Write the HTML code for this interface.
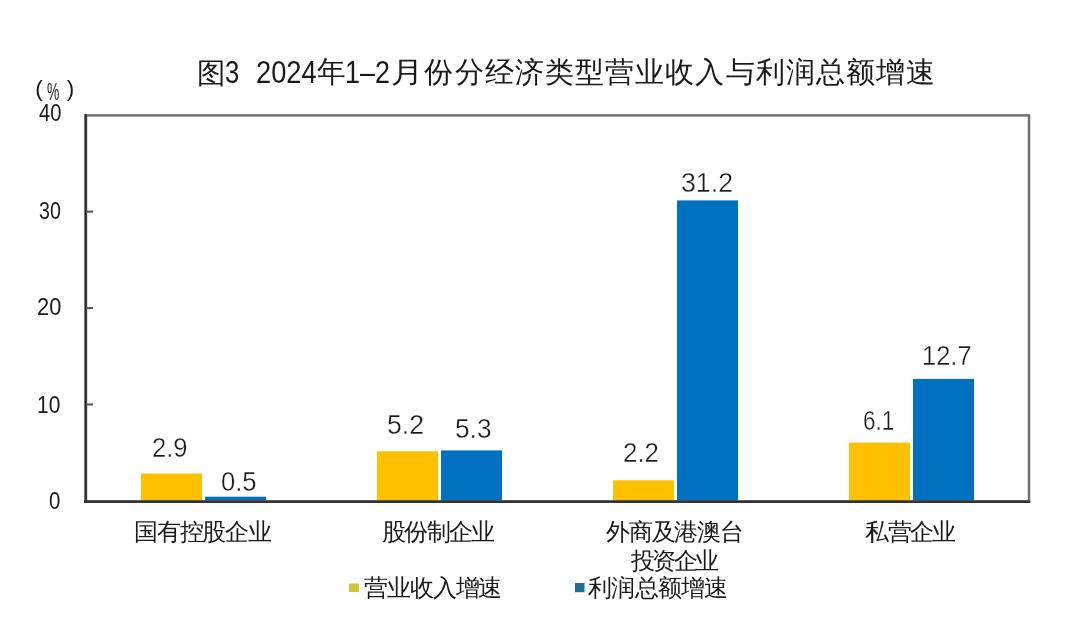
<!DOCTYPE html>
<html><head><meta charset="utf-8">
<style>
html,body{margin:0;padding:0;background:#fff;}
body{width:1080px;height:620px;position:relative;overflow:hidden;font-family:"Liberation Sans",sans-serif;color:#1a1a1a;}
#wrap{position:absolute;left:0;top:0;width:1080px;height:620px;filter:blur(0.6px);}
.t{position:absolute;white-space:nowrap;line-height:1;transform-origin:0 0;}
.thin{-webkit-text-stroke:0.35px #fff;}
svg{position:absolute;left:0;top:0;}
</style></head><body><div id="wrap">
<svg width="1080" height="620" viewBox="0 0 1080 620">
  <rect x="141.0" y="473.5" width="61" height="28.0" fill="#FFC000"/>
  <rect x="205.0" y="496.7" width="61" height="4.8" fill="#0070C0"/>
  <rect x="377.0" y="451.3" width="61" height="50.2" fill="#FFC000"/>
  <rect x="441.0" y="450.4" width="61" height="51.1" fill="#0070C0"/>
  <rect x="613.0" y="480.3" width="61" height="21.2" fill="#FFC000"/>
  <rect x="677.0" y="200.4" width="61" height="301.1" fill="#0070C0"/>
  <rect x="849.0" y="442.6" width="61" height="58.9" fill="#FFC000"/>
  <rect x="913.0" y="378.9" width="61" height="122.6" fill="#0070C0"/>
  <rect x="86" y="115.4" width="943" height="386" fill="none" stroke="#707070" stroke-width="2.5"/>
  <line x1="85.6" y1="114" x2="85.6" y2="503" stroke="#2e2e2e" stroke-width="2.4"/>
  <line x1="84" y1="501.7" x2="1030.2" y2="501.7" stroke="#333" stroke-width="2.6"/>
  <line x1="86" y1="211.6" x2="93" y2="211.6" stroke="#555" stroke-width="2"/>
  <line x1="86" y1="308.1" x2="93" y2="308.1" stroke="#555" stroke-width="2"/>
  <line x1="86" y1="404.5" x2="93" y2="404.5" stroke="#555" stroke-width="2"/>
  <rect x="349" y="583.5" width="10" height="8.5" fill="#CFC53A"/>
  <rect x="575" y="583" width="9.5" height="9.2" fill="#1C6E92"/>
</svg>
<div class="t" style="left:197.31px;top:59.14px;font-size:28.60px;letter-spacing:0.00px;transform:scaleX(0.9819);">图</div>
<div class="t" style="left:225.14px;top:57.31px;font-size:30.50px;letter-spacing:0.00px;transform:scaleX(0.8442);">3</div>
<div class="t" style="left:256.01px;top:57.31px;font-size:30.50px;letter-spacing:0.00px;transform:scaleX(0.8935);">2024</div>
<div class="t" style="left:317.23px;top:57.23px;font-size:30.00px;letter-spacing:0.00px;transform:scaleX(0.9529);">年</div>
<div class="t" style="left:344.52px;top:57.31px;font-size:30.50px;letter-spacing:0.00px;transform:scaleX(0.8823);">1–2</div>
<div class="t" style="left:391.00px;top:57.92px;font-size:28.50px;letter-spacing:0.00px;transform:scaleX(1.1171);">月</div>
<div class="t" style="left:424.48px;top:57.46px;font-size:29.30px;letter-spacing:1.11px;">份分经济类型营业收入与利润总额增速</div>
<div class="t" style="left:35.16px;top:78.38px;font-size:22.50px;letter-spacing:0.00px;">(</div>
<div class="t" style="left:47.26px;top:80.90px;font-size:23.12px;letter-spacing:0.00px;transform:scaleX(0.5989);">%</div>
<div class="t" style="left:66.78px;top:78.38px;font-size:22.50px;letter-spacing:0.00px;">)</div>
<div class="t" style="left:38.57px;top:101.32px;font-size:24.00px;letter-spacing:0.00px;transform:scaleX(0.8377);">40</div>
<div class="t" style="left:39.00px;top:199.04px;font-size:24.00px;letter-spacing:0.00px;transform:scaleX(0.8175);">30</div>
<div class="t" style="left:37.03px;top:295.27px;font-size:24.00px;letter-spacing:0.00px;transform:scaleX(0.9105);">20</div>
<div class="t" style="left:37.15px;top:392.62px;font-size:24.00px;letter-spacing:0.00px;transform:scaleX(0.8716);">10</div>
<div class="t" style="left:48.52px;top:488.74px;font-size:24.00px;letter-spacing:0.00px;transform:scaleX(0.8500);">0</div>
<div class="t thin" style="left:152.07px;top:432.89px;font-size:28.50px;letter-spacing:0.00px;transform:scaleX(0.8983);">2.9</div>
<div class="t thin" style="left:221.04px;top:467.31px;font-size:28.50px;letter-spacing:0.00px;transform:scaleX(0.8971);">0.5</div>
<div class="t thin" style="left:386.77px;top:409.66px;font-size:28.50px;letter-spacing:0.00px;transform:scaleX(0.9338);">5.2</div>
<div class="t thin" style="left:455.43px;top:413.62px;font-size:28.50px;letter-spacing:0.00px;transform:scaleX(0.9207);">5.3</div>
<div class="t thin" style="left:623.44px;top:438.35px;font-size:28.50px;letter-spacing:0.00px;transform:scaleX(0.9079);">2.2</div>
<div class="t thin" style="left:680.62px;top:168.20px;font-size:28.50px;letter-spacing:0.00px;transform:scaleX(0.9382);">31.2</div>
<div class="t thin" style="left:862.88px;top:406.04px;font-size:28.50px;letter-spacing:0.00px;transform:scaleX(0.7896);">6.1</div>
<div class="t thin" style="left:921.74px;top:340.79px;font-size:28.50px;letter-spacing:0.00px;transform:scaleX(0.8938);">12.7</div>
<div class="t" style="left:134.45px;top:520.44px;font-size:24.00px;letter-spacing:-1.36px;">国有控股企业</div>
<div class="t" style="left:381.82px;top:520.05px;font-size:24.00px;letter-spacing:-1.62px;">股份制企业</div>
<div class="t" style="left:606.21px;top:520.11px;font-size:24.00px;letter-spacing:-1.28px;">外商及港澳台</div>
<div class="t" style="left:630.88px;top:549.32px;font-size:24.00px;letter-spacing:-2.48px;">投资企业</div>
<div class="t" style="left:865.45px;top:520.44px;font-size:24.00px;letter-spacing:-1.90px;">私营企业</div>
<div class="t" style="left:364.05px;top:575.85px;font-size:24.00px;letter-spacing:-1.12px;">营业收入增速</div>
<div class="t" style="left:587.97px;top:575.85px;font-size:24.00px;letter-spacing:-0.72px;">利润总额增速</div>
</div></body></html>
